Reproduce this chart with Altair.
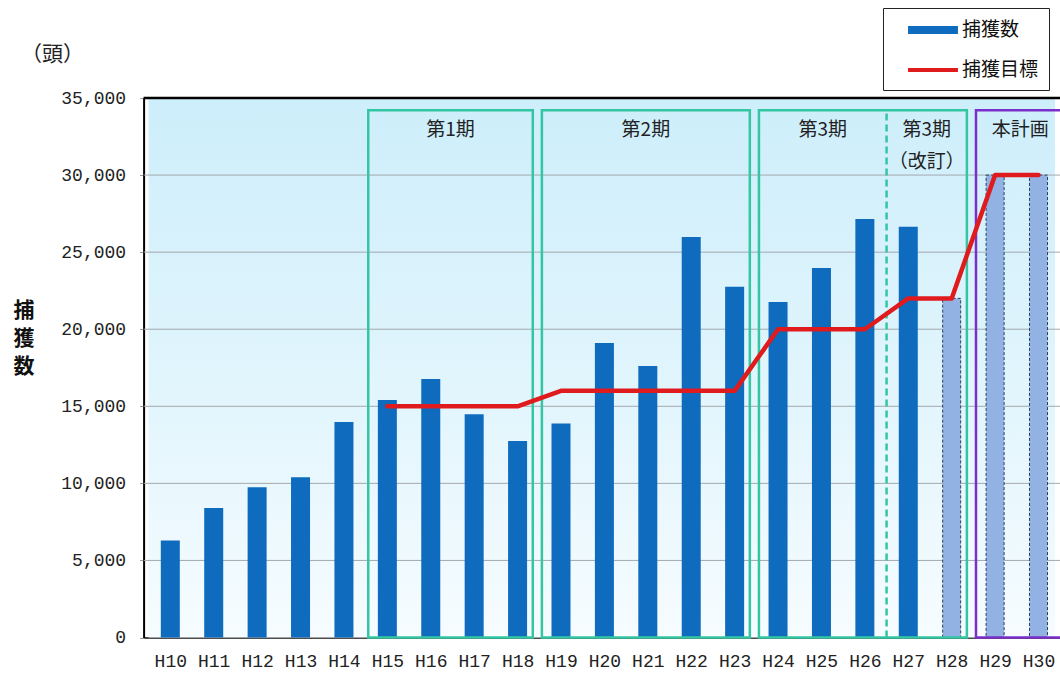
import json
import altair as alt
import pandas as pd

# ---------------- data ----------------
years = ["H10", "H11", "H12", "H13", "H14", "H15", "H16", "H17", "H18", "H19",
         "H20", "H21", "H22", "H23", "H24", "H25", "H26", "H27", "H28", "H29", "H30"]

catch_years = ["H10", "H11", "H12", "H13", "H14", "H15", "H16", "H17", "H18",
               "H19", "H20", "H21", "H22", "H23", "H24", "H25", "H26", "H27"]
catch_values = [6300, 8400, 9750, 10400, 13980, 15400, 16770, 14480, 12740,
                13890, 19100, 17620, 25980, 22760, 21770, 23970, 27150, 26650]

plan_years = ["H28", "H29", "H30"]
plan_values = [22000, 30000, 30000]

target_years = ["H15", "H16", "H17", "H18", "H19", "H20", "H21", "H22", "H23",
                "H24", "H25", "H26", "H27", "H28", "H29", "H30"]
target_values = [15000, 15000, 15000, 15000, 16000, 16000, 16000, 16000, 16000,
                 20000, 20000, 20000, 22000, 22000, 30000, 30000]

y_ticks = [0, 5000, 10000, 15000, 20000, 25000, 30000, 35000]

box_names = ["第1期", "第2期", "第3期", "本計画"]
box_first = ["H15", "H19", "H24", "H29"]
box_last = ["H18", "H23", "H28", "H30"]

label_texts = ["第1期", "第2期", "第3期", "第3期\n（改訂）", "本計画"]
label_first = ["H15", "H19", "H24", "H27", "H29"]
label_last = ["H18", "H23", "H26", "H28", "H30"]

divider_after = "H26"

series_names = ["捕獲数", "捕獲目標"]

# ---------------- styling ----------------
BLUE = "#0e6bbd"
LIGHT = "#93b2e4"
RED = "#e01b1e"
TEAL = "#34c6a2"
PURPLE = "#7b2fc9"
JP = "Noto Sans CJK JP"
MONO = "Liberation Mono"

idx = {y: i for i, y in enumerate(years)}
X_MIN, X_MAX = -0.5, 20.38
LEFT_IN, RIGHT_IN = 0.44, 0.35
BOX_TOP = 34200


def left_edge(c):
    return idx[c] - LEFT_IN


def right_edge(c):
    return idx[c] + RIGHT_IN if c != years[-1] else idx[c] + 0.6


xscale = alt.Scale(domain=[X_MIN, X_MAX], nice=False, zero=False)
yscale = alt.Scale(domain=[0, 35000], nice=False, zero=False)

label_expr = json.dumps(years) + "[datum.value]"

x_axis = alt.Axis(values=list(range(len(years))), labelExpr=label_expr, labelAngle=0,
                  labelFont=MONO, labelFontSize=18, labelColor="#222", labelPadding=15,
                  ticks=False, grid=False, domainColor="#111", domainWidth=1.5,
                  labelFlush=False, labelOverlap=False, title=None)
y_axis = alt.Axis(values=y_ticks, labelExpr="format(datum.value, ',')", labelFont=MONO,
                  labelFontSize=18, labelColor="#222", tickSize=4, tickColor="#999",
                  labelPadding=14, domainColor="#000", domainWidth=2, grid=False,
                  labelFlush=False, labelOverlap=False,
                  title=["捕", "獲", "数"], titleAngle=0, titleX=-120, titleY=212,
                  titleAlign="center", titleBaseline="middle", titleFont=JP,
                  titleFontSize=21, titleFontWeight="bold", titleLineHeight=28,
                  titleColor="#111")


def X(field):
    return alt.X(field, scale=xscale, axis=x_axis)


def Y(field):
    return alt.Y(field, scale=yscale, axis=y_axis)


# background
bg_df = pd.DataFrame({"x0": [X_MIN], "x1": [X_MAX], "y0": [0], "y1": [35000]})
bg = alt.Chart(bg_df).mark_rect(
    fill=alt.Gradient(gradient="linear", x1=0, x2=0, y1=0, y2=1,
                      stops=[alt.GradientStop(color="#cdeefb", offset=0),
                             alt.GradientStop(color="#e4f6fd", offset=0.6),
                             alt.GradientStop(color="#f6fcff", offset=1)])
).encode(x=X("x0:Q"), x2="x1:Q", y=Y("y0:Q"), y2="y1:Q")

grid_df = pd.DataFrame({"v": y_ticks[1:-1]})
grid = alt.Chart(grid_df).mark_rule(color="#a3a9ad", strokeWidth=1).encode(y=Y("v:Q"))

top_df = pd.DataFrame({"v": [y_ticks[-1]]})
top = alt.Chart(top_df).mark_rule(color="#000", strokeWidth=2.5).encode(y=Y("v:Q"))

catch_df = pd.DataFrame({"i": [idx[c] for c in catch_years], "v": catch_values,
                         "s": [series_names[0]] * len(catch_years)})
bars = alt.Chart(catch_df).mark_bar(size=19).encode(
    x=X("i:Q"),
    y=Y("v:Q"),
    color=alt.Color("s:N", scale=alt.Scale(domain=series_names, range=[BLUE, RED]),
                    legend=alt.Legend(
                        title=None, orient="none", legendX=739.4, legendY=-90,
                        direction="vertical", padding=10, strokeColor="#222",
                        fillColor="#ffffff", symbolSize=576, symbolStrokeWidth=0,
                        symbolOffset=28, labelOffset=17, rowPadding=18,
                        symbolType=alt.ExprRef(
                            "datum.value === '捕獲数' ? 'M-2.08,-0.33H2.08V0.33H-2.08Z' : 'M-2.08,-0.17H2.08V0.17H-2.08Z'"),
                        labelFont=JP, labelFontSize=19, labelColor="#111",
                        labelExpr="datum.label + '\u3000'")),
)

plan_df = pd.DataFrame({"i": [idx[c] for c in plan_years], "v": plan_values})
plan = alt.Chart(plan_df).mark_bar(size=18, fill=LIGHT, stroke="#2b3f5c",
                                   strokeWidth=1, strokeDash=[3, 2]).encode(
    x=X("i:Q"), y=Y("v:Q"))

box_df = pd.DataFrame({
    "name": box_names,
    "a": [left_edge(c) for c in box_first],
    "b": [right_edge(c) for c in box_last],
    "top": [BOX_TOP] * len(box_names),
    "bot": [0] * len(box_names),
    "col": [TEAL, TEAL, TEAL, PURPLE],
})
boxes = alt.Chart(box_df).mark_rect(fillOpacity=0, strokeWidth=2.5).encode(
    x=X("a:Q"), x2="b:Q", y=Y("bot:Q"), y2="top:Q",
    stroke=alt.Stroke("col:N", scale=None, legend=None),
)

div_df = pd.DataFrame({"x": [idx[divider_after] + 0.5], "y0": [0], "y1": [BOX_TOP]})
divider = alt.Chart(div_df).mark_rule(color=TEAL, strokeWidth=2.5, strokeDash=[7, 4]).encode(
    x=X("x:Q"), y=Y("y0:Q"), y2="y1:Q")

target_df = pd.DataFrame({"i": [idx[c] for c in target_years], "v": target_values})
line = alt.Chart(target_df).mark_line(color=RED, strokeWidth=4.5, interpolate="linear",
                                      strokeCap="round", strokeJoin="round").encode(
    x=X("i:Q"), y=Y("v:Q"))


def label_left(c):
    return left_edge(c) if c in box_first else idx[c] - 0.5


def label_right(c):
    if c == divider_after:
        return idx[c] + 0.5
    return right_edge(c)


lab_df = pd.DataFrame({
    "t": label_texts,
    "x": [(label_left(a) + label_right(b)) / 2 for a, b in zip(label_first, label_last)],
    "y": [32900] * len(label_texts),
})
labels = alt.Chart(lab_df).mark_text(font=JP, fontSize=19, color="#222", align="center",
                                     baseline="middle", lineBreak="\n", lineHeight=32).encode(
    x=X("x:Q"), y=Y("y:Q"), text="t:N")

unit_df = pd.DataFrame({"x": [X_MIN], "y": [y_ticks[-1]], "t": ["（頭）"]})
unit = alt.Chart(unit_df).mark_text(font=JP, fontSize=21, color="#222", align="center",
                                    baseline="middle", dx=-96, dy=-43).encode(
    x=X("x:Q"), y=Y("y:Q"), text="t:N")

chart = alt.layer(bg, grid, bars, plan, boxes, divider, line, top, labels, unit).properties(
    width=916.4, height=539.5,
    autosize=alt.AutoSizeParams(type="none"),
    padding={"left": 143.6, "top": 98, "right": 0, "bottom": 35.5},
    background="#ffffff",
).configure_view(strokeWidth=0)

chart.save("out.html", embed_options={"renderer": "svg", "actions": False})
